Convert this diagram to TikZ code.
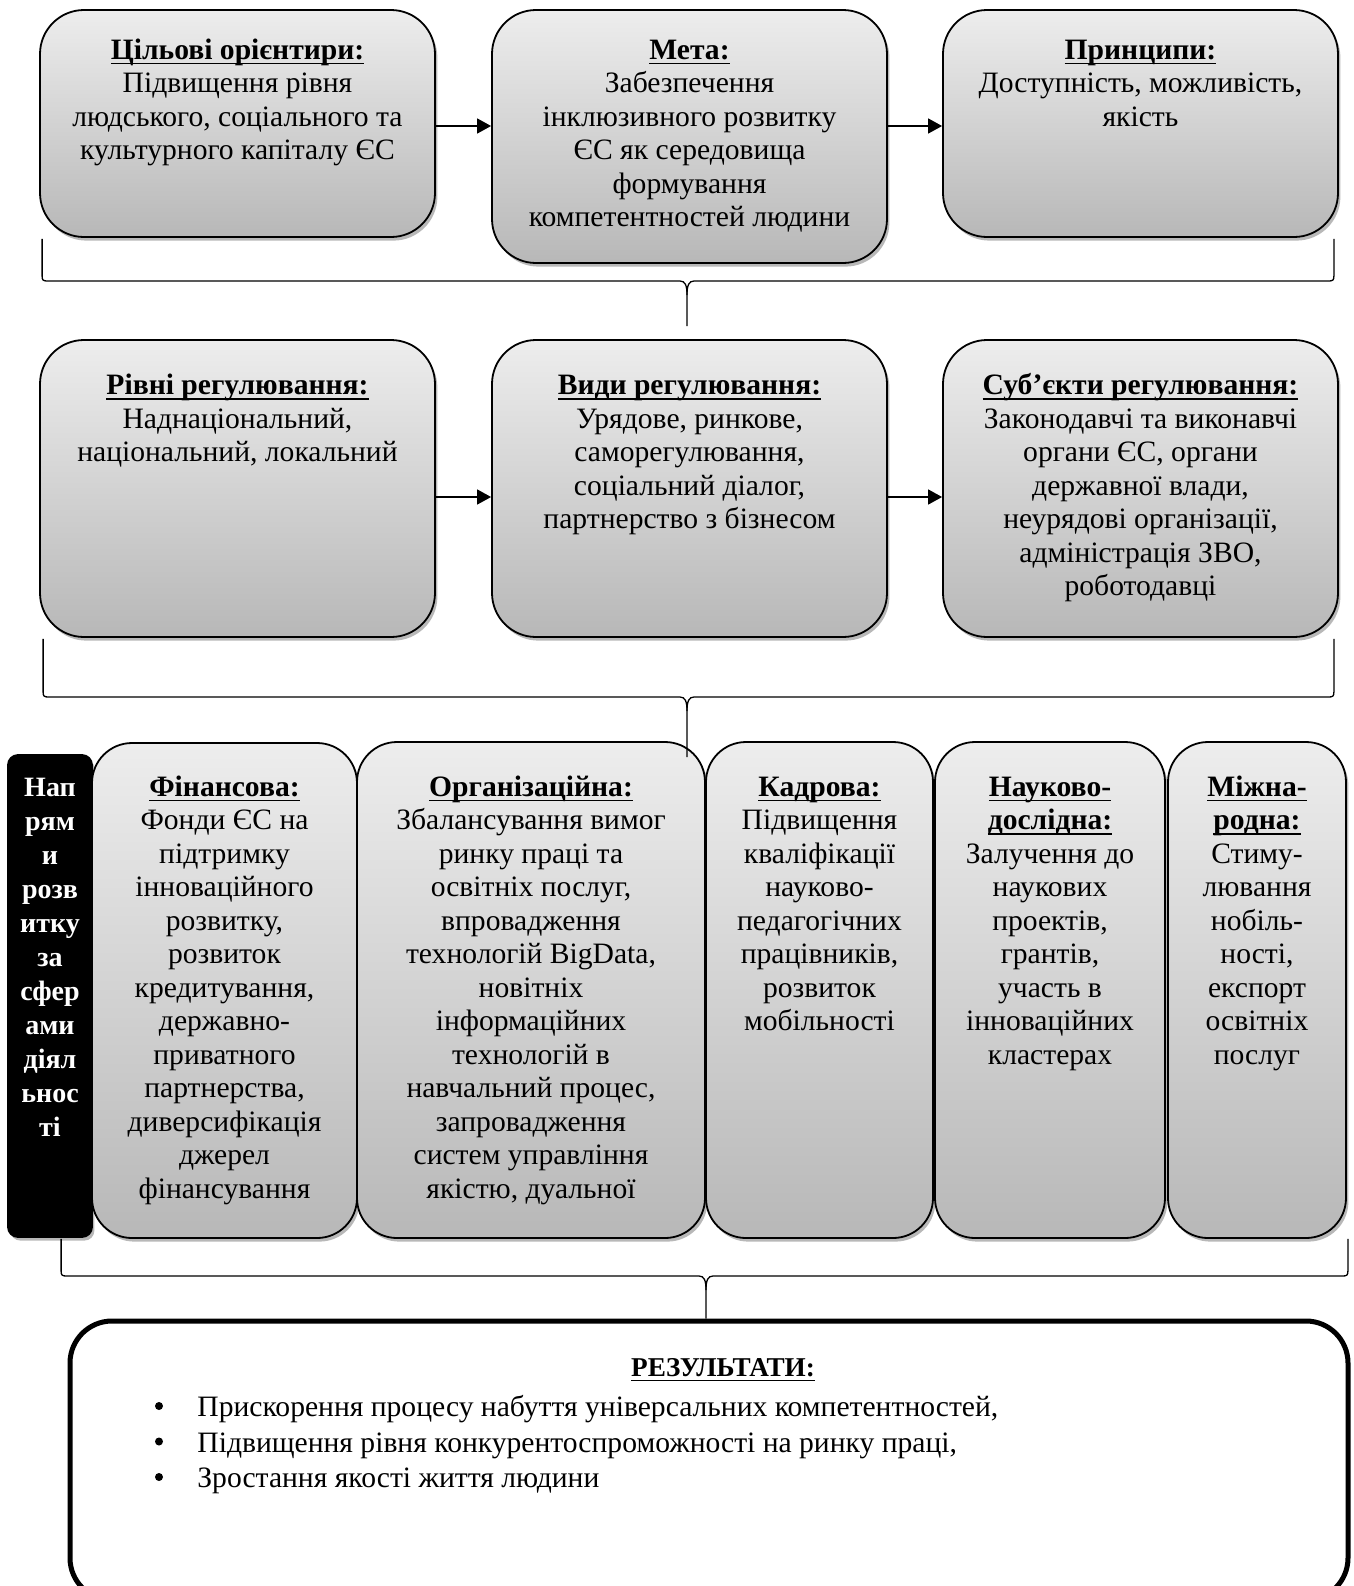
\documentclass[tikz,border=0pt]{standalone}
\usepackage{fontspec}
\setmainfont{Liberation Serif}
\usetikzlibrary{shadows,arrows.meta,calc}

\newcommand{\myul}[1]{\setbox0=\hbox{\bfseries #1}\rlap{\rule[-2.4pt]{\wd0}{0.85pt}}\box0}
\newcommand{\gb}[6][gbox]{\node[#1, minimum width={(#5-#3)*0.5pt}, minimum height={(#6-#4)*0.5pt}] (#2) at ({(#3+#5)/2},{(#4+#6)/2}) {};}
\newcommand{\bt}[4]{\node[btxt] (#1) at (#2,{#3-23.45}) {\strut#4};}
\newcommand{\mybrace}[4]{%
\draw[brc] (#1) -- ($(#1|-#3)+(0,-5)$) .. controls ($(#1|-#3)+(0,-1)$) and ($(#1|-#3)+(1,0)$) .. ($(#1|-#3)+(5,0)$) -- ($(#3)+(-7,0)$) .. controls ($(#3)+(-2,0)$) and ($(#3)+(0,4)$) .. ($(#3)+(0,14)$) -- (#4);
\draw[brc] (#2) -- ($(#2|-#3)+(0,-5)$) .. controls ($(#2|-#3)+(0,-1)$) and ($(#2|-#3)+(-1,0)$) .. ($(#2|-#3)+(-5,0)$) -- ($(#3)+(7,0)$) .. controls ($(#3)+(2,0)$) and ($(#3)+(0,4)$) .. ($(#3)+(0,14)$);}

\tikzset{
  gbox/.style={draw=black, line width=0.9pt, rounded corners=22pt, top color=black!7, bottom color=black!28,
    drop shadow={shadow xshift=1.2pt, shadow yshift=-1.8pt, fill=black!55}, inner sep=0pt},
  gbox3/.style={gbox, rounded corners=20pt},
  kbox/.style={draw=black, line width=0.9pt, rounded corners=5pt, fill=black,
    drop shadow={shadow xshift=1.2pt, shadow yshift=-1.8pt, fill=black!55}, inner sep=0pt},
  btxt/.style={font=\fontsize{14.8}{16.75}\selectfont, align=center, inner sep=0pt, anchor=north},
  ktxt/.style={font=\bfseries\fontsize{14}{17}\selectfont, text=white, align=center, inner sep=0pt, anchor=north},
  rtxt/.style={font=\fontsize{14.8}{16.75}\selectfont, inner sep=0pt},
  bul/.style={circle, fill=black, inner sep=0pt, minimum size=4pt},
  arr/.style={line width=0.75pt, -{Triangle[length=7pt,width=7.5pt]}},
  brc/.style={line width=0.65pt},
  resbox/.style={draw=black, line width=2.5pt, rounded corners=21pt, fill=white, inner sep=0pt}
}

\begin{document}
\begin{tikzpicture}[x=0.5pt,y=-0.5pt]
\useasboundingbox (0,0) rectangle (1354,1586);
\fill[white] (0,0) rectangle (1354,1586);

% row 1
\gb{b1}{40}{10}{435}{237}
\gb{b2}{492}{10}{887}{263}
\gb{b3}{943}{10}{1338}{237}
\bt{t1}{237.5}{59}{\myul{Цільові орієнтири:}\\Підвищення рівня\\людського, соціального та\\культурного капіталу ЄС}
\bt{t2}{689.5}{59}{\myul{Мета:}\\Забезпечення\\інклюзивного розвитку\\ЄС як середовища\\формування\\компетентностей людини}
\bt{t3}{1140.5}{59}{\myul{Принципи:}\\Доступність, можливість,\\якість}

% row 2
\gb{b4}{40}{340}{435}{637}
\gb{b5}{492}{340}{887}{637}
\gb{b6}{943}{340}{1338}{637}
\bt{t4}{237.5}{394.5}{\myul{Рівні регулювання:}\\Наднаціональний,\\національний, локальний}
\bt{t5}{689.5}{394.5}{\myul{Види регулювання:}\\Урядове, ринкове,\\саморегулювання,\\соціальний діалог,\\партнерство з бізнесом}
\bt{t6}{1140.5}{394.5}{\myul{Суб’єкти регулювання:}\\Законодавчі та виконавчі\\органи ЄС, органи\\державної влади,\\неурядові організації,\\адміністрація ЗВО,\\роботодавці}

% row 3
\gb[kbox]{k}{8}{755}{92}{1237}
\gb[gbox3]{b7}{92}{743}{357}{1238}
\gb[gbox3]{b8}{357}{742}{705}{1238}
\gb[gbox3]{b9}{706}{742}{933}{1238}
\gb[gbox3]{b10}{935}{742}{1165}{1238}
\gb[gbox3]{b11}{1168}{742}{1346}{1238}
\node[ktxt] (kt) at (50,{796-23.8}) {\strut Нап\\рям\\и\\розв\\итку\\за\\сфер\\ами\\діял\\ьнос\\ті};
\bt{t7}{224.5}{796}{\myul{Фінансова:}\\Фонди ЄС на\\підтримку\\інноваційного\\розвитку,\\розвиток\\кредитування,\\державно-\\приватного\\партнерства,\\диверсифікація\\джерел\\фінансування}
\bt{t8}{531}{796}{\myul{Організаційна:}\\Збалансування вимог\\ринку праці та\\освітніх послуг,\\впровадження\\технологій BigData,\\новітніх\\інформаційних\\технологій в\\навчальний процес,\\запровадження\\систем управління\\якістю, дуальної}
\bt{t9}{819.5}{796}{\myul{Кадрова:}\\Підвищення\\кваліфікації\\науково-\\педагогічних\\працівників,\\розвиток\\мобільності}
\bt{t10}{1050}{796}{\myul{Науково-}\\\myul{дослідна:}\\Залучення до\\наукових\\проектів,\\грантів,\\участь в\\інноваційних\\кластерах}
\bt{t11}{1257}{796}{\myul{Міжна-}\\\myul{родна:}\\Стиму-\\лювання\\нобіль-\\ності,\\експорт\\освітніх\\послуг}

% results
\node[resbox, minimum width=639pt, minimum height=139.5pt] (res) at (709,1460.5) {};
\node[rtxt, font=\fontsize{13.6}{16.75}\selectfont, anchor=base] (rt) at (723,1376.5) {\myul{РЕЗУЛЬТАТИ:}};
\node[bul] (u1) at (159,1406) {};
\node[bul] (u2) at (159,1441.5) {};
\node[bul] (u3) at (159,1477) {};
\node[rtxt, anchor=base west] (r1) at (197,1416.5) {Прискорення процесу набуття універсальних компетентностей,};
\node[rtxt, anchor=base west] (r2) at (197,1452) {Підвищення рівня конкурентоспроможності на ринку праці,};
\node[rtxt, anchor=base west] (r3) at (197,1487.5) {Зростання якості життя людини};

% arrows
\coordinate (a1) at ($(b1.east)+(0,2.5)$);
\coordinate (a2) at ($(b2.east)+(0,-10.5)$);
\coordinate (a3) at ($(b4.east)+(0,8.5)$);
\coordinate (a4) at ($(b5.east)+(0,8.5)$);
\draw[arr] (a1) -- (a1 -| b2.west);
\draw[arr] (a2) -- (a2 -| b3.west);
\draw[arr] (a3) -- (a3 -| b5.west);
\draw[arr] (a4) -- (a4 -| b6.west);

% braces
\coordinate (c1L) at ($(b1.south west)+(3,1)$);
\coordinate (c1R) at ($(b3.south east)+(-5,1)$);
\coordinate (c1H) at (687,281);
\coordinate (c1S) at (687,326);
\mybrace{c1L}{c1R}{c1H}{c1S}
\coordinate (c2L) at ($(b4.south west)+(4,1)$);
\coordinate (c2R) at ($(b6.south east)+(-5,1)$);
\coordinate (c2H) at (687,697);
\coordinate (c2S) at (687,757);
\mybrace{c2L}{c2R}{c2H}{c2S}
\coordinate (c3L) at ($(k.south west)+(54,1)$);
\coordinate (c3R) at ($(b11.south east)+(1,0)$);
\coordinate (c3H) at (706,1276);
\coordinate (c3S) at (c3H |- res.north);
\mybrace{c3L}{c3R}{c3H}{c3S}
\end{tikzpicture}
\end{document}
